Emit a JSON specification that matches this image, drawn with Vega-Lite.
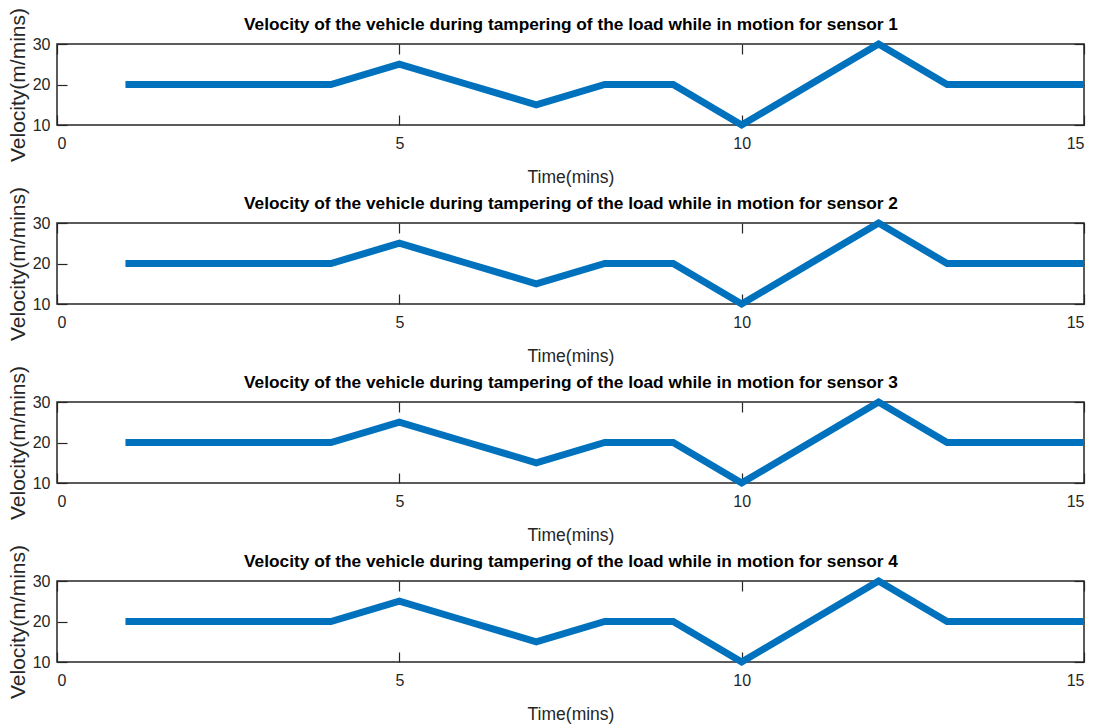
{
  "$schema": "https://vega.github.io/schema/vega-lite/v6.json",
  "background": "white",
  "padding": {"left": 6, "top": 6, "right": 5, "bottom": 0},
  "bounds": "flush",
  "spacing": 98,
  "config": {
    "view": {"stroke": "#262626", "strokeWidth": 1.5},
    "axis": {
      "labelFont": "Liberation Sans",
      "labelFontSize": 16,
      "labelColor": "#262626",
      "titleFont": "Liberation Sans",
      "titleFontWeight": "normal",
      "titleColor": "#262626",
      "domain": false,
      "grid": false,
      "tickColor": "#262626",
      "tickWidth": 1.2,
      "tickSize": -10
    },
    "axisX": {"titleFontSize": 17.5},
    "axisY": {"titleFontSize": 21},
    "axisTop": {"titleFontSize": 17.3, "titleFontWeight": "bold", "titleColor": "#000000", "titlePadding": 10}
  },
  "datasets": {
    "velocity": [
      {"sensor": 1, "time": 1, "velocity": 20}, {"sensor": 1, "time": 2, "velocity": 20}, {"sensor": 1, "time": 3, "velocity": 20}, {"sensor": 1, "time": 4, "velocity": 20}, {"sensor": 1, "time": 5, "velocity": 25}, {"sensor": 1, "time": 6, "velocity": 20}, {"sensor": 1, "time": 7, "velocity": 15}, {"sensor": 1, "time": 8, "velocity": 20}, {"sensor": 1, "time": 9, "velocity": 20}, {"sensor": 1, "time": 10, "velocity": 10}, {"sensor": 1, "time": 11, "velocity": 20}, {"sensor": 1, "time": 12, "velocity": 30}, {"sensor": 1, "time": 13, "velocity": 20}, {"sensor": 1, "time": 14, "velocity": 20}, {"sensor": 1, "time": 15, "velocity": 20},
      {"sensor": 2, "time": 1, "velocity": 20}, {"sensor": 2, "time": 2, "velocity": 20}, {"sensor": 2, "time": 3, "velocity": 20}, {"sensor": 2, "time": 4, "velocity": 20}, {"sensor": 2, "time": 5, "velocity": 25}, {"sensor": 2, "time": 6, "velocity": 20}, {"sensor": 2, "time": 7, "velocity": 15}, {"sensor": 2, "time": 8, "velocity": 20}, {"sensor": 2, "time": 9, "velocity": 20}, {"sensor": 2, "time": 10, "velocity": 10}, {"sensor": 2, "time": 11, "velocity": 20}, {"sensor": 2, "time": 12, "velocity": 30}, {"sensor": 2, "time": 13, "velocity": 20}, {"sensor": 2, "time": 14, "velocity": 20}, {"sensor": 2, "time": 15, "velocity": 20},
      {"sensor": 3, "time": 1, "velocity": 20}, {"sensor": 3, "time": 2, "velocity": 20}, {"sensor": 3, "time": 3, "velocity": 20}, {"sensor": 3, "time": 4, "velocity": 20}, {"sensor": 3, "time": 5, "velocity": 25}, {"sensor": 3, "time": 6, "velocity": 20}, {"sensor": 3, "time": 7, "velocity": 15}, {"sensor": 3, "time": 8, "velocity": 20}, {"sensor": 3, "time": 9, "velocity": 20}, {"sensor": 3, "time": 10, "velocity": 10}, {"sensor": 3, "time": 11, "velocity": 20}, {"sensor": 3, "time": 12, "velocity": 30}, {"sensor": 3, "time": 13, "velocity": 20}, {"sensor": 3, "time": 14, "velocity": 20}, {"sensor": 3, "time": 15, "velocity": 20},
      {"sensor": 4, "time": 1, "velocity": 20}, {"sensor": 4, "time": 2, "velocity": 20}, {"sensor": 4, "time": 3, "velocity": 20}, {"sensor": 4, "time": 4, "velocity": 20}, {"sensor": 4, "time": 5, "velocity": 25}, {"sensor": 4, "time": 6, "velocity": 20}, {"sensor": 4, "time": 7, "velocity": 15}, {"sensor": 4, "time": 8, "velocity": 20}, {"sensor": 4, "time": 9, "velocity": 20}, {"sensor": 4, "time": 10, "velocity": 10}, {"sensor": 4, "time": 11, "velocity": 20}, {"sensor": 4, "time": 12, "velocity": 30}, {"sensor": 4, "time": 13, "velocity": 20}, {"sensor": 4, "time": 14, "velocity": 20}, {"sensor": 4, "time": 15, "velocity": 20}
    ]
  },
  "vconcat": [
    {
      "width": 1027, "height": 81,
      "data": {"name": "velocity"},
      "transform": [{"filter": "datum.sensor == 1"}],
      "resolve": {"axis": {"x": "independent", "y": "independent"}},
      "layer": [
        {
          "mark": {"type": "line", "color": "#0072BD", "strokeWidth": 7, "strokeJoin": "miter"},
          "encoding": {
            "x": {"field": "time", "type": "quantitative", "scale": {"domain": [0, 15], "nice": false}, "axis": {"values": [0, 5, 10, 15], "title": "Time(mins)", "labelPadding": 20, "titlePadding": 17}},
            "y": {"field": "velocity", "type": "quantitative", "scale": {"domain": [10, 30], "nice": false, "zero": false}, "axis": {"values": [10, 20, 30], "title": "Velocity(m/mins)", "labelPadding": 17, "titlePadding": 4}}
          }
        },
        {
          "mark": {"type": "line", "strokeOpacity": 0},
          "encoding": {
            "x": {"field": "time", "type": "quantitative", "axis": {"orient": "top", "values": [0, 5, 10, 15], "labels": false, "title": "Velocity of the vehicle during tampering of the load while in motion for sensor 1"}},
            "y": {"field": "velocity", "type": "quantitative", "axis": {"orient": "right", "values": [10, 20, 30], "labels": false, "title": null}}
          }
        }
      ]
    },
    {
      "width": 1027, "height": 81,
      "data": {"name": "velocity"},
      "transform": [{"filter": "datum.sensor == 2"}],
      "resolve": {"axis": {"x": "independent", "y": "independent"}},
      "layer": [
        {
          "mark": {"type": "line", "color": "#0072BD", "strokeWidth": 7, "strokeJoin": "miter"},
          "encoding": {
            "x": {"field": "time", "type": "quantitative", "scale": {"domain": [0, 15], "nice": false}, "axis": {"values": [0, 5, 10, 15], "title": "Time(mins)", "labelPadding": 20, "titlePadding": 17}},
            "y": {"field": "velocity", "type": "quantitative", "scale": {"domain": [10, 30], "nice": false, "zero": false}, "axis": {"values": [10, 20, 30], "title": "Velocity(m/mins)", "labelPadding": 17, "titlePadding": 4}}
          }
        },
        {
          "mark": {"type": "line", "strokeOpacity": 0},
          "encoding": {
            "x": {"field": "time", "type": "quantitative", "axis": {"orient": "top", "values": [0, 5, 10, 15], "labels": false, "title": "Velocity of the vehicle during tampering of the load while in motion for sensor 2"}},
            "y": {"field": "velocity", "type": "quantitative", "axis": {"orient": "right", "values": [10, 20, 30], "labels": false, "title": null}}
          }
        }
      ]
    },
    {
      "width": 1027, "height": 81,
      "data": {"name": "velocity"},
      "transform": [{"filter": "datum.sensor == 3"}],
      "resolve": {"axis": {"x": "independent", "y": "independent"}},
      "layer": [
        {
          "mark": {"type": "line", "color": "#0072BD", "strokeWidth": 7, "strokeJoin": "miter"},
          "encoding": {
            "x": {"field": "time", "type": "quantitative", "scale": {"domain": [0, 15], "nice": false}, "axis": {"values": [0, 5, 10, 15], "title": "Time(mins)", "labelPadding": 20, "titlePadding": 17}},
            "y": {"field": "velocity", "type": "quantitative", "scale": {"domain": [10, 30], "nice": false, "zero": false}, "axis": {"values": [10, 20, 30], "title": "Velocity(m/mins)", "labelPadding": 17, "titlePadding": 4}}
          }
        },
        {
          "mark": {"type": "line", "strokeOpacity": 0},
          "encoding": {
            "x": {"field": "time", "type": "quantitative", "axis": {"orient": "top", "values": [0, 5, 10, 15], "labels": false, "title": "Velocity of the vehicle during tampering of the load while in motion for sensor 3"}},
            "y": {"field": "velocity", "type": "quantitative", "axis": {"orient": "right", "values": [10, 20, 30], "labels": false, "title": null}}
          }
        }
      ]
    },
    {
      "width": 1027, "height": 81,
      "data": {"name": "velocity"},
      "transform": [{"filter": "datum.sensor == 4"}],
      "resolve": {"axis": {"x": "independent", "y": "independent"}},
      "layer": [
        {
          "mark": {"type": "line", "color": "#0072BD", "strokeWidth": 7, "strokeJoin": "miter"},
          "encoding": {
            "x": {"field": "time", "type": "quantitative", "scale": {"domain": [0, 15], "nice": false}, "axis": {"values": [0, 5, 10, 15], "title": "Time(mins)", "labelPadding": 20, "titlePadding": 17}},
            "y": {"field": "velocity", "type": "quantitative", "scale": {"domain": [10, 30], "nice": false, "zero": false}, "axis": {"values": [10, 20, 30], "title": "Velocity(m/mins)", "labelPadding": 17, "titlePadding": 4}}
          }
        },
        {
          "mark": {"type": "line", "strokeOpacity": 0},
          "encoding": {
            "x": {"field": "time", "type": "quantitative", "axis": {"orient": "top", "values": [0, 5, 10, 15], "labels": false, "title": "Velocity of the vehicle during tampering of the load while in motion for sensor 4"}},
            "y": {"field": "velocity", "type": "quantitative", "axis": {"orient": "right", "values": [10, 20, 30], "labels": false, "title": null}}
          }
        }
      ]
    }
  ]
}
